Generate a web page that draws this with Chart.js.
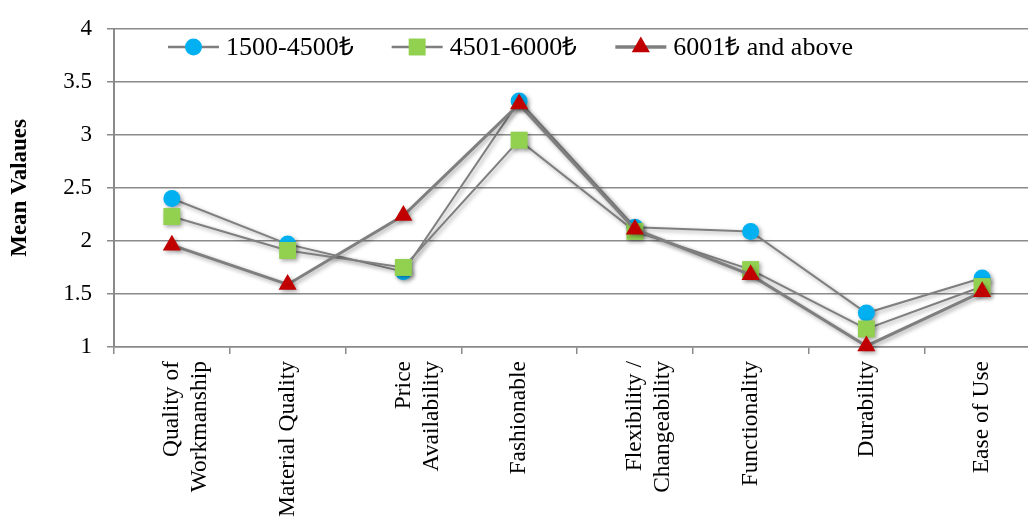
<!DOCTYPE html>
<html>
<head>
<meta charset="utf-8">
<script src="https://cdn.jsdelivr.net/npm/chart.js@4"></script>
<style>
  html, body { margin: 0; padding: 0; background: #fff; overflow: hidden; width: 1028px; height: 521px; }
  #wrap { width: 1028px; height: 521px; overflow: hidden; position: relative; }
  #chart { position: absolute; left: 0; top: 0; }
</style>
</head>
<body>
<div id="wrap"><canvas id="chart" width="1040" height="521"></canvas></div>
<script>
// chart data
const categories = [['Quality of', 'Workmanship'], 'Material Quality', ['Price', 'Availability'], 'Fashionable',
  ['Flexibility /', 'Changeability'], 'Functionality', 'Durability', 'Ease of Use']
const seriesNames = ['1500-4500₺', '4501-6000₺', '6001₺ and above']
const lowIncome = [2.40, 1.97, 1.71, 3.32, 2.13, 2.09, 1.32, 1.65]
const midIncome = [2.23, 1.91, 1.75, 2.95, 2.09, 1.73, 1.17, 1.57]
const highIncome = [1.96, 1.59, 2.24, 3.29, 2.11, 1.68, 1.01, 1.52]
const yTicks = [1, 1.5, 2, 2.5, 3, 3.5, 4]
const yTickLabels = ['1', '1.5', '2', '2.5', '3', '3.5', '4']

const serif = '"Liberation Serif", "Times New Roman", serif'
const gridColor = '#8a8a8a'
const lineColor = '#7f7f7f'
const plotRight = 1040 // the source plot runs a little past the picture's right edge

const shadowPlugin = {
  id: 'shadow',
  beforeDatasetsDraw(chart) {
    const ctx = chart.ctx
    ctx.save()
    ctx.shadowColor = 'rgba(0,0,0,0.35)'
    ctx.shadowBlur = 4
    ctx.shadowOffsetX = 2
    ctx.shadowOffsetY = 2
  },
  afterDatasetsDraw(chart) {
    chart.ctx.restore()
  }
}

// stretch the plot area out to plotRight after chart.js has laid it out
const widenPlugin = {
  id: 'widen',
  afterLayout(chart) {
    const xs = chart.scales.x
    const area = chart.chartArea
    if (!xs || !area) return
    area.right = plotRight
    area.width = area.right - area.left
    xs.right = plotRight
    xs.width = xs.right - xs.left
    xs.configure()
  }
}

const drawMarker = (ctx, style, r, x, y) => {
  ctx.beginPath()
  if (style === 'circle') {
    ctx.arc(x, y, r, 0, Math.PI * 2)
  } else if (style === 'rect') {
    const s = r * Math.SQRT1_2
    ctx.rect(x - s, y - s, 2 * s, 2 * s)
  } else {
    ctx.moveTo(x, y - r)
    ctx.lineTo(x + r * Math.sin(Math.PI * 2 / 3), y + r / 2)
    ctx.lineTo(x - r * Math.sin(Math.PI * 2 / 3), y + r / 2)
    ctx.closePath()
  }
  ctx.fill()
}

// legend sits inside the plot, above the 3.5 gridline
const legendPlugin = {
  id: 'insideLegend',
  afterDraw(chart) {
    const ctx = chart.ctx
    const y = 47
    let x = 168
    ctx.save()
    ctx.font = '26px ' + serif
    ctx.textBaseline = 'middle'
    chart.data.datasets.forEach((ds) => {
      ctx.strokeStyle = ds.borderColor
      ctx.lineWidth = ds.borderWidth + 0.5
      ctx.beginPath()
      ctx.moveTo(x, y)
      ctx.lineTo(x + 51, y)
      ctx.stroke()
      ctx.fillStyle = ds.pointBackgroundColor
      drawMarker(ctx, ds.pointStyle, ds.pointRadius, x + 25.5, y)
      ctx.fillStyle = '#000'
      ctx.fillText(ds.label, x + 58, y + 1)
      x += 58 + ctx.measureText(ds.label).width + 38
    })
    ctx.restore()
  }
}

const makeSet = (i, data, color, style, radius, width, order) => ({
  label: seriesNames[i],
  data: data,
  borderColor: lineColor,
  borderWidth: width,
  pointStyle: style,
  pointRadius: radius,
  pointBackgroundColor: color,
  pointBorderWidth: 0,
  tension: 0,
  clip: false,
  order: order
})

new Chart(document.getElementById('chart'), {
  type: 'line',
  data: {
    labels: categories,
    datasets: [
      makeSet(0, lowIncome, '#00b0f0', 'circle', 8.5, 2, 3),
      makeSet(1, midIncome, '#92d050', 'rect', 12, 2, 2),
      makeSet(2, highIncome, '#c00000', 'triangle', 10.5, 3, 1)
    ]
  },
  options: {
    responsive: false,
    animation: false,
    devicePixelRatio: 1,
    layout: { padding: { top: 18, right: 0, bottom: 0, left: 0 } },
    plugins: {
      legend: { display: false },
      tooltip: { enabled: false }
    },
    scales: {
      x: {
        offset: true,
        grid: { offset: true, drawOnChartArea: false, color: gridColor, lineWidth: 1.5, tickLength: 7 },
        border: { color: gridColor, width: 1.5 },
        ticks: {
          color: '#000',
          font: { family: serif, size: 23.5 },
          minRotation: 90,
          maxRotation: 90,
          autoSkip: false,
          padding: 7
        },
        afterFit(scale) {
          scale.height = 174
          scale.paddingLeft = 0
          scale.paddingRight = 0
        }
      },
      y: {
        min: 1,
        max: 4,
        afterBuildTicks(scale) { scale.ticks = yTicks.map(v => ({ value: v })) },
        grid: { color: gridColor, lineWidth: 1.5, tickLength: 7 },
        border: { color: gridColor, width: 2 },
        ticks: {
          color: '#000',
          font: { family: serif, size: 23 },
          padding: 15,
          callback: (v, i) => yTickLabels[i]
        },
        title: {
          display: true,
          text: 'Mean Valaues',
          color: '#000',
          font: { family: serif, size: 23, weight: 'bold' },
          padding: { top: 6, bottom: 0 }
        },
        afterFit(scale) { scale.width = 114 }
      }
    }
  },
  plugins: [widenPlugin, shadowPlugin, legendPlugin]
})
</script>
</body>
</html>
